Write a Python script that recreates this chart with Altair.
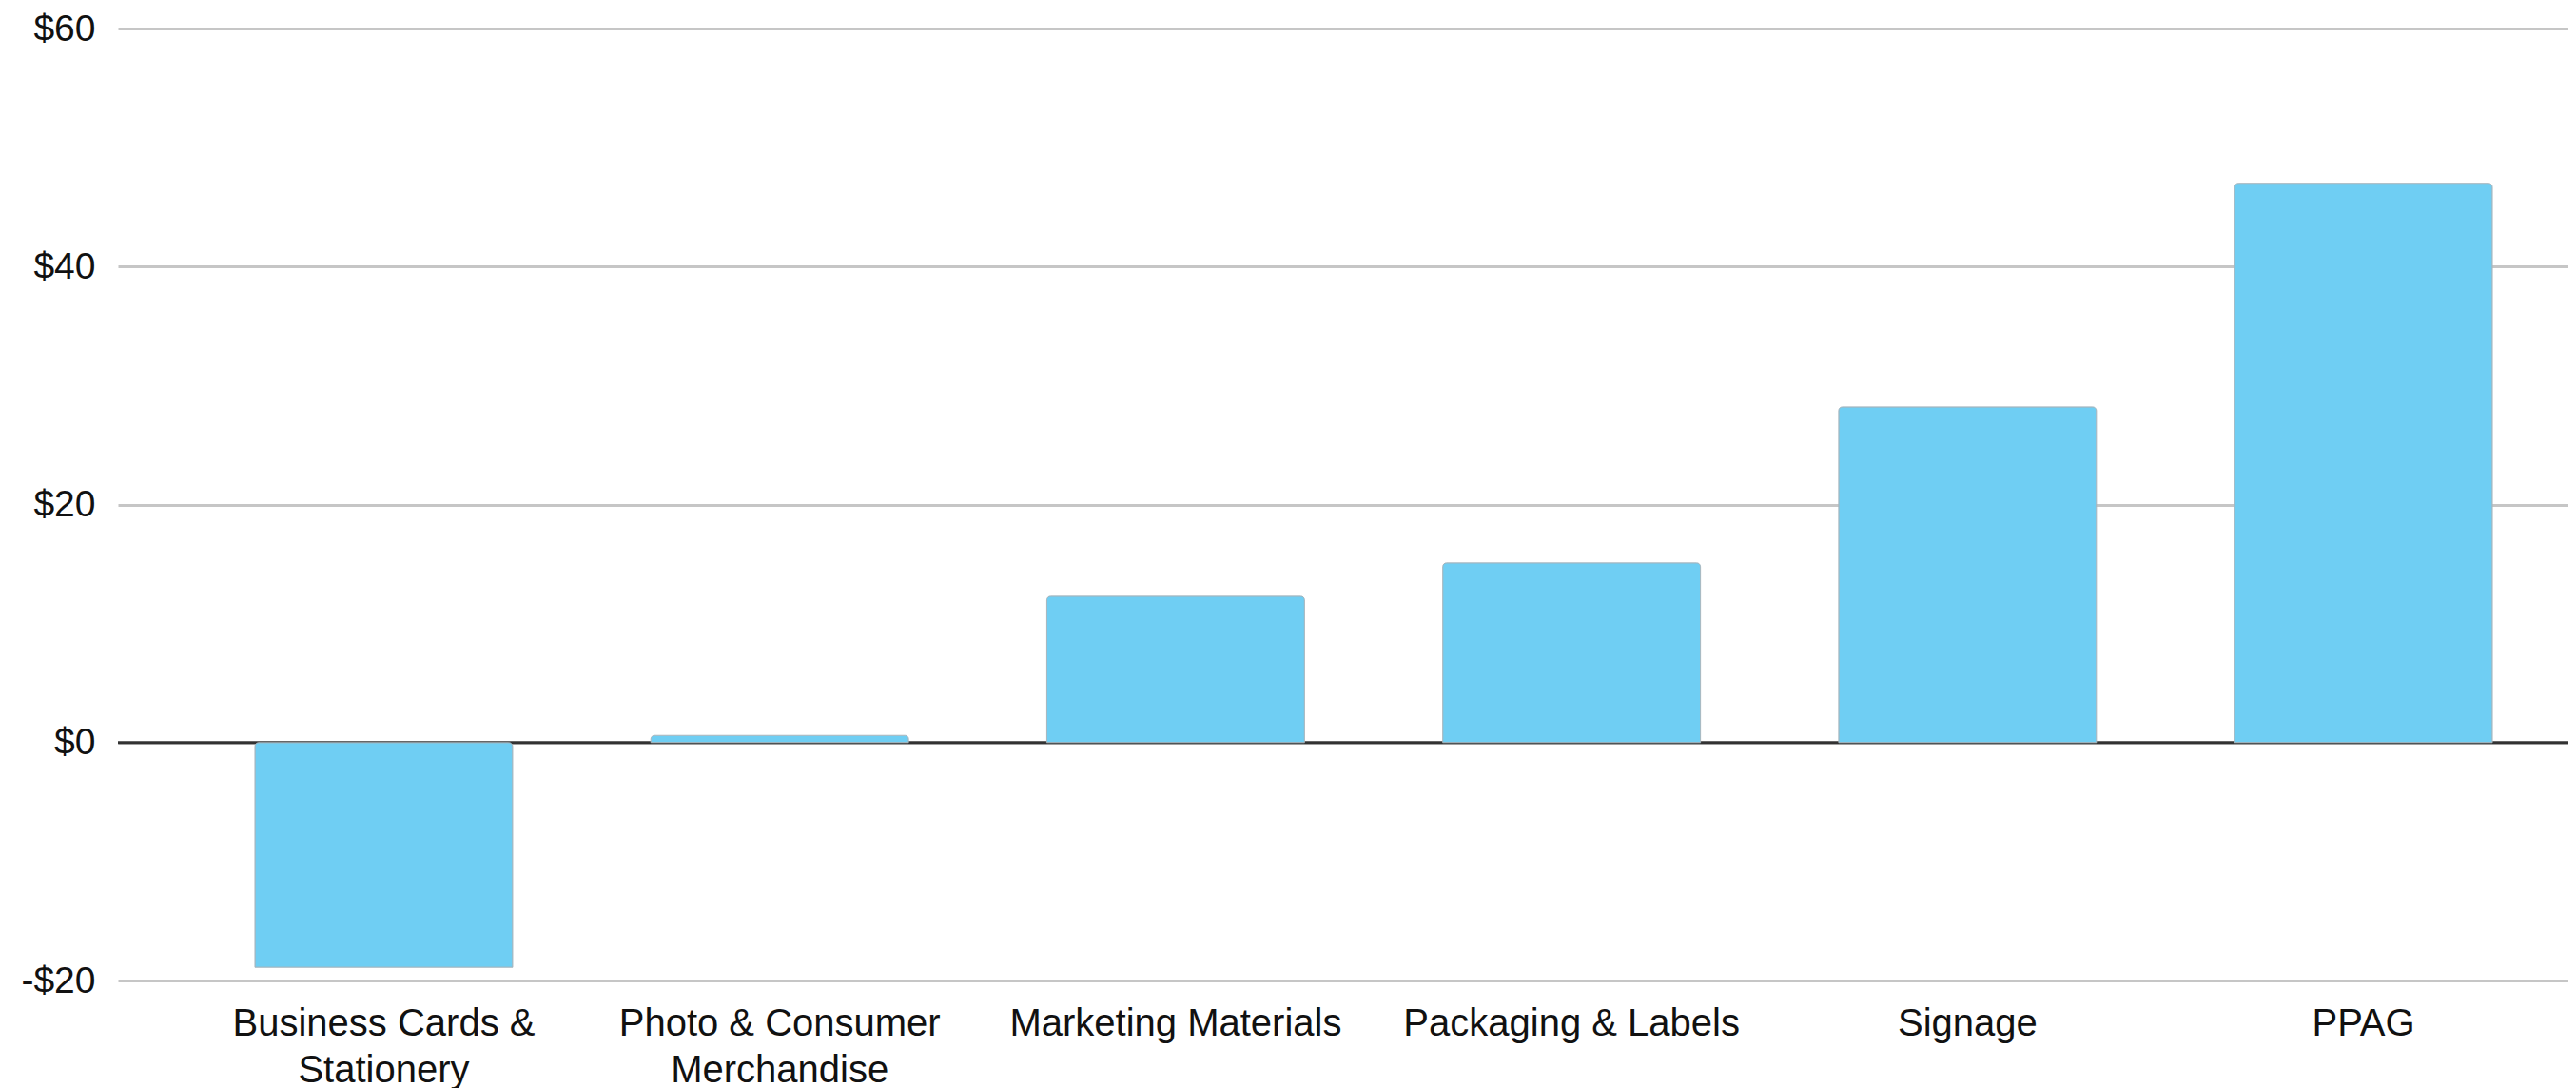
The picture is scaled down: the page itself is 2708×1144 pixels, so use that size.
import json
import altair as alt
import pandas as pd

categories = [
    "Business Cards & Stationery",
    "Photo & Consumer Merchandise",
    "Marketing Materials",
    "Packaging & Labels",
    "Signage",
    "PPAG",
]
values = [-18.9, 0.6, 12.3, 15.1, 28.2, 47.0]
label_lines = [
    ["Business Cards &", "Stationery"],
    ["Photo & Consumer", "Merchandise"],
    ["Marketing Materials"],
    ["Packaging & Labels"],
    ["Signage"],
    ["PPAG"],
]
y_ticks = [-20, 0, 20, 40, 60]

df = pd.DataFrame({"category": categories, "value": values})

# build label expression for wrapped x labels
expr = "datum.label"
for cat, lines in reversed(list(zip(categories, label_lines))):
    expr = f"datum.label == {json.dumps(cat)} ? {json.dumps(lines)} : ({expr})"

FONT = "Liberation Sans"

y_scale = alt.Scale(domain=[-20, 60], nice=False, zero=False)
x_scale = alt.Scale(paddingInner=0.349, paddingOuter=0.269, align=0.643)

bars = alt.Chart(df).mark_bar(
    color="#6FCEF3",
    stroke="#a4b6bf",
    strokeWidth=1,
    cornerRadiusEnd=4,
).encode(
    x=alt.X(
        "category:N",
        sort=categories,
        scale=x_scale,
        axis=alt.Axis(
            title=None,
            labelAngle=0,
            domain=False,
            ticks=False,
            labelExpr=expr,
            labelFont=FONT,
            labelFontSize=40,
            labelColor="#111",
            labelPadding=25,
            labelLineHeight=49,
            labelBaseline="top",
            labelLimit=0,
            labelOverlap=False,
        ),
    ),
    y=alt.Y(
        "value:Q",
        scale=y_scale,
        axis=alt.Axis(
            title=None,
            values=y_ticks,
            domain=False,
            ticks=False,
            grid=True,
            gridColor="#c6c6c6",
            gridWidth=3,
            labelFont=FONT,
            labelFontSize=39,
            labelColor="#111",
            labelPadding=24,
            labelExpr="datum.value < 0 ? '-$' + abs(datum.value) : '$' + datum.value",
        ),
    ),
)

zero = alt.Chart(pd.DataFrame({"z": [0]})).mark_rule(
    color="#333333", strokeWidth=3
).encode(y=alt.Y("z:Q", scale=y_scale))

chart = alt.layer(zero, bars).properties(
    width=2576,
    height=1001,
    autosize=alt.AutoSizeParams(type="none"),
    padding={"left": 116, "top": 22, "right": 0, "bottom": 113},
).configure_view(stroke=None)

chart.save("out.html", embed_options={"renderer": "svg", "actions": False})
